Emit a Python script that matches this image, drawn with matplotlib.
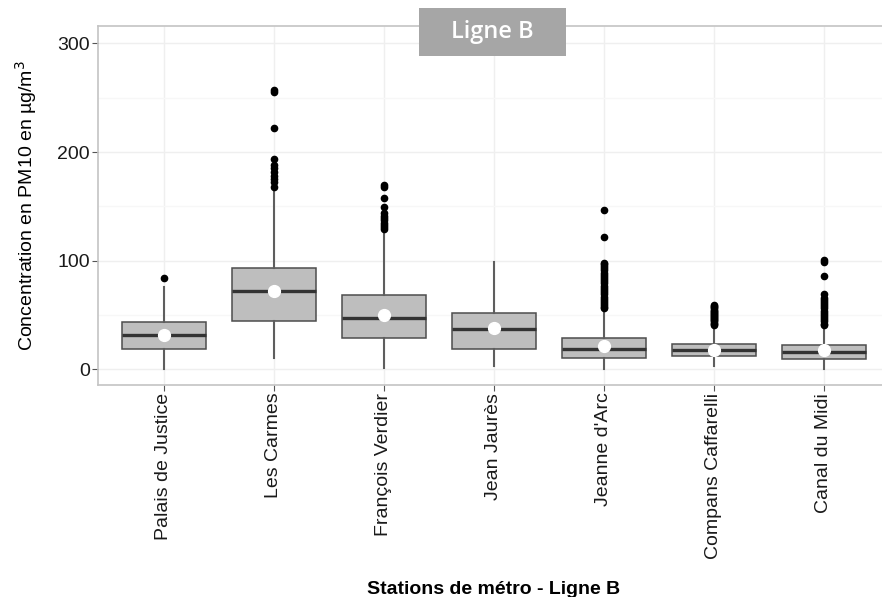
import matplotlib.pyplot as plt
from matplotlib.patches import Rectangle

plt.rcParams['font.family'] = ['Liberation Sans', 'DejaVu Sans']

# stations de la ligne B
stations = ['Palais de Justice', 'Les Carmes', 'François Verdier', 'Jean Jaurès',
            "Jeanne d'Arc", 'Compans Caffarelli', 'Canal du Midi']

# statistiques des boites (PM10, µg/m3)
q1 = [18.7, 44.8, 28.5, 18.7, 10.7, 11.9, 9.8]
medianes = [31.6, 71.8, 47.5, 37.1, 19.0, 17.5, 15.7]
q3 = [43.6, 93.6, 68.7, 51.6, 29.1, 23.6, 22.7]
moustache_bas = [0.5, 10.1, 1.0, 3.3, 0.0, 3.0, 0.0]
moustache_haut = [76.0, 165.0, 128.0, 98.5, 54.6, 39.2, 39.0]
moyennes = [31.9, 72.4, 50.3, 37.7, 21.7, 18.0, 17.5]

# valeurs extremes
outliers = [
    [84],
    [257, 255, 222, 194, 188, 185, 182, 178, 175, 172, 168],
    [170, 168, 158, 149, 144, 141, 139, 137, 135, 133, 131, 129],
    [],
    [147, 122, 98, 97, 95, 93, 91, 89, 87, 85, 83, 81, 79, 77, 75, 73,
     71, 69, 67, 65, 63, 61, 59, 57, 56],
    [59, 58, 57, 56, 55, 54, 53, 52, 51, 50, 49, 48, 47, 46, 45, 44, 43, 42, 41],
    [101, 99, 86, 69, 66, 64, 62, 60, 58, 56, 54, 52, 50, 48, 46, 44, 42, 41],
]

stats = []
for i in range(len(stations)):
    stats.append({'q1': q1[i], 'med': medianes[i], 'q3': q3[i],
                  'whislo': moustache_bas[i], 'whishi': moustache_haut[i],
                  'fliers': outliers[i], 'mean': moyennes[i], 'label': stations[i]})

fig = plt.figure(figsize=(8.82, 5.97), dpi=100)
ax = fig.add_axes([98 / 882, 0.3551, 792 / 882, 0.6019])

pos = list(range(1, len(stations) + 1))
ax.bxp(stats, positions=pos, widths=0.76, patch_artist=True, showmeans=True,
       showcaps=False,
       boxprops=dict(facecolor='#bebebe', edgecolor='#4d4d4d', linewidth=1.1),
       medianprops=dict(color='#333333', linewidth=2.4),
       whiskerprops=dict(color='#5e5e5e', linewidth=1.5),
       flierprops=dict(marker='o', markerfacecolor='black', markeredgecolor='black',
                       markersize=4.5),
       meanprops=dict(marker='o', markerfacecolor='white', markeredgecolor='white',
                      markersize=8.5),
       zorder=3)

ax.set_xlim(0.4, 7.6)
ax.set_ylim(-14.5, 316.4)
ax.set_yticks([0, 100, 200, 300])
ax.set_yticks([50, 150, 250], minor=True)
ax.set_xticks(pos)
ax.set_xticklabels(stations, rotation=90, fontsize=14)
ax.tick_params(axis='y', labelsize=14, length=4, color='#555555', labelcolor='#1a1a1a', pad=2)
ax.tick_params(axis='x', length=4, color='#555555', labelcolor='#1a1a1a', pad=1.5)
ax.tick_params(which='minor', length=0)

ax.grid(which='major', color='#efefef', linewidth=1.0, zorder=0)
ax.grid(which='minor', axis='y', color='#f7f7f7', linewidth=1.0, zorder=0)
ax.set_axisbelow(True)
for s in ax.spines.values():
    s.set_color('#c4c4c4')
    s.set_linewidth(1.2)

ax.set_ylabel('Concentration en PM10 en µg/m$^3$', fontsize=14, labelpad=13)
ax.set_xlabel('Stations de métro - Ligne B', fontsize=14, fontweight='bold', labelpad=16)

# etiquette de la ligne
fig.patches.append(Rectangle((419 / 882, 1 - 55.7 / 597), 147 / 882, 48 / 597,
                             transform=fig.transFigure, facecolor='#a6a6a6',
                             edgecolor='none', zorder=5))
fig.text(492.5 / 882, 1 - 32 / 597, 'Ligne B', color='white', fontsize=17,
         family='Open Sans', fontweight='semibold', ha='center', va='center', zorder=6)

plt.savefig('out.png', dpi=100)
